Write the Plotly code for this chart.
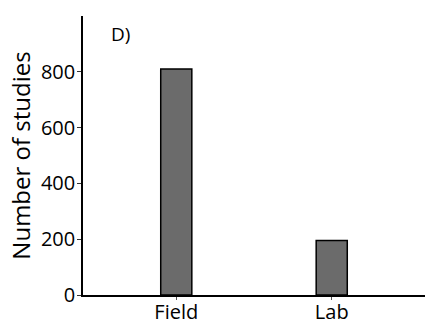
import plotly.graph_objects as go

categories = ["Field", "Lab"]
studies = [810, 195]
y_ticks = [0, 200, 400, 600, 800]

fig = go.Figure(
    go.Bar(
        x=categories,
        y=studies,
        width=0.2,
        marker=dict(color="#6b6b6b", line=dict(color="black", width=1.5)),
    )
)

fig.update_layout(
    width=430,
    height=328,
    margin=dict(l=83, r=5, t=16, b=33),
    plot_bgcolor="white",
    paper_bgcolor="white",
    font=dict(family="Open Sans", color="black", size=20),
    showlegend=False,
    annotations=[
        dict(
            text="D)", x=0.111, y=0.935, xref="paper", yref="paper",
            showarrow=False, font=dict(size=19), xanchor="center", yanchor="middle",
        )
    ],
)

fig.update_xaxes(
    range=[-0.6, 1.6],
    automargin=False,
    showline=True, linecolor="black", linewidth=1.5,
    ticks="outside", ticklen=3, tickcolor="#555", tickwidth=1,
    showgrid=False, tickfont=dict(size=20), ticklabelstandoff=-5,
)
fig.update_yaxes(
    range=[0, 1000],
    automargin=False,
    tickvals=y_ticks,
    showline=True, linecolor="black", linewidth=1.5,
    ticks="outside", ticklen=4, tickcolor="#333", tickwidth=1,
    showgrid=False, zeroline=False, tickfont=dict(size=20), ticklabelstandoff=-2,
    title=dict(text="Number of studies", font=dict(size=24), standoff=4),
)

fig.write_html("out.html")
